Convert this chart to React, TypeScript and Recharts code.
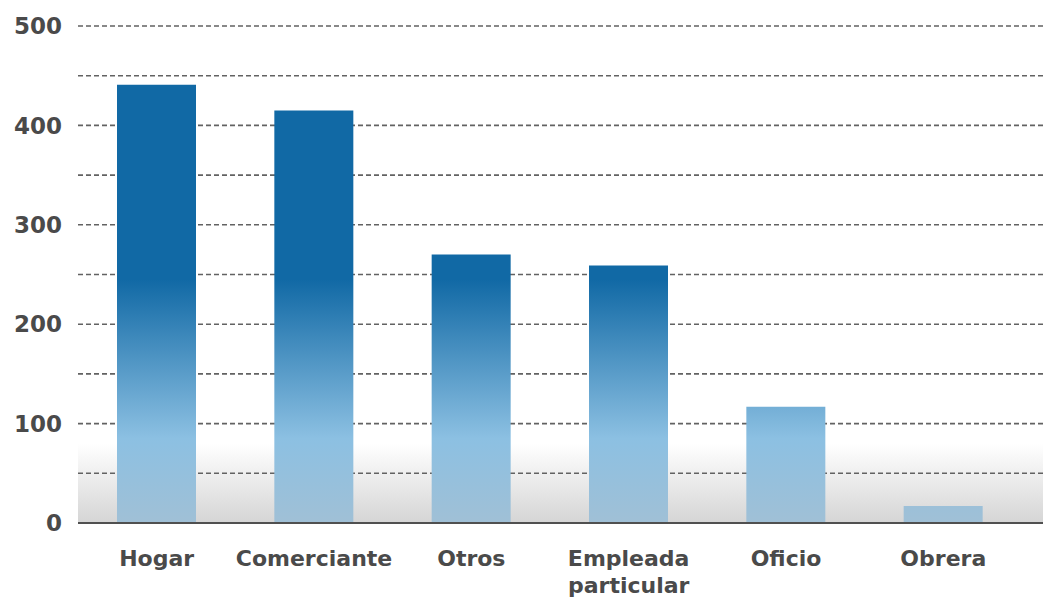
import { Bar, BarChart, CartesianGrid, XAxis, YAxis } from "recharts";

const categories = ["Hogar", "Comerciante", "Otros", "Empleada particular", "Oficio", "Obrera"];
const counts = [441, 415, 270, 259, 117, 17];
const yTicks = [0, 50, 100, 150, 200, 250, 300, 350, 400, 450, 500];

const data = categories.map((name, i) => ({ name, count: counts[i] }));

const labelColor = "#4a4a4a";
const font = "'DejaVu Sans', sans-serif";

function XTick({ x, y, payload }: any) {
  const lines = String(payload.value).split(" ");
  return (
    <text x={x} y={y} textAnchor="middle" fill={labelColor} fontFamily={font} fontWeight={700} fontSize={22}>
      {lines.map((line, i) => (
        <tspan key={i} x={x} dy={i === 0 ? 35 : 27}>
          {line}
        </tspan>
      ))}
    </text>
  );
}

function YTick({ x, y, payload }: any) {
  if (payload.value % 100 !== 0) return null;
  return (
    <text x={x - 8} y={y} dy="0.36em" textAnchor="end" fill={labelColor} fontFamily={font} fontWeight={700} fontSize={23}>
      {payload.value}
    </text>
  );
}

export default function App() {
  return (
    <div style={{ position: "absolute", left: 0, top: 0, background: "#fff" }}>
      <BarChart width={1043} height={599} data={data} margin={{ top: 26, right: 0, left: 0, bottom: 0 }}>
        <defs>
          <linearGradient id="barFill" gradientUnits="userSpaceOnUse" x1="0" y1="26" x2="0" y2="523">
            <stop offset="0%" stopColor="#1169a5" />
            <stop offset="51%" stopColor="#1169a5" />
            <stop offset="83%" stopColor="#8cc0e2" />
            <stop offset="100%" stopColor="#a0c0d6" />
          </linearGradient>
          <linearGradient id="floorFill" x1="0" y1="0" x2="0" y2="1">
            <stop offset="0%" stopColor="#ffffff" />
            <stop offset="84%" stopColor="#ffffff" />
            <stop offset="100%" stopColor="#d5d5d5" />
          </linearGradient>
        </defs>
        <CartesianGrid
          vertical={false}
          fill="url(#floorFill)"
          fillOpacity={1}
          stroke="#626262"
          strokeWidth={1.6}
          strokeDasharray="5 3"
        />
        <XAxis
          dataKey="name"
          height={76}
          padding={{ left: 0, right: 21 }}
          tickLine={false}
          axisLine={{ stroke: "#505050", strokeWidth: 2 }}
          tick={<XTick />}
          interval={0}
        />
        <YAxis
          width={78}
          domain={[0, 500]}
          ticks={yTicks}
          interval={0}
          tickLine={false}
          axisLine={false}
          tick={<YTick />}
        />
        <Bar dataKey="count" fill="url(#barFill)" barSize={79} isAnimationActive={false} />
      </BarChart>
    </div>
  );
}
